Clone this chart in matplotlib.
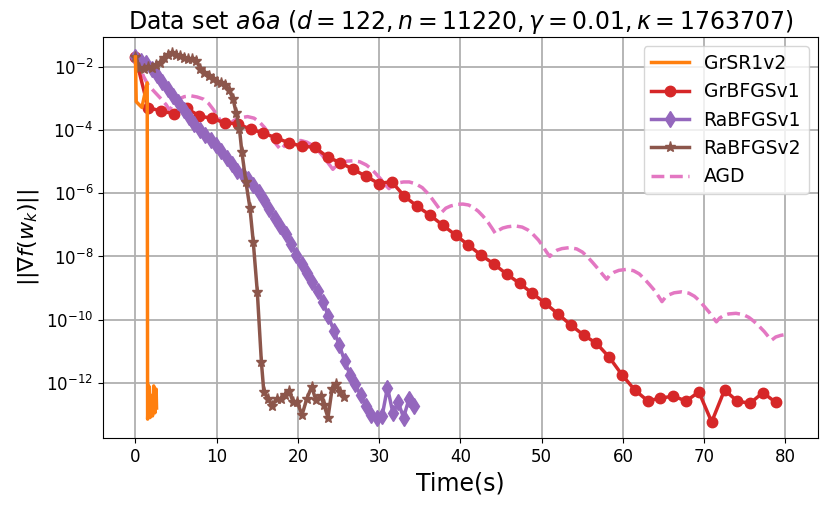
import numpy as np
import matplotlib
matplotlib.use("Agg")
import matplotlib.pyplot as plt
from matplotlib.ticker import NullLocator

# ---------------- data (log10 of gradient norm) ----------------
grsr1_t = [0.0, 0.1, 0.8, 1.45, 1.5, 1.65, 1.8, 1.95, 2.1, 2.25, 2.4, 2.55, 2.6]
grsr1_log = [-1.68, -3.1, -3.28, -2.5, -13.15, -12.1, -13.1, -12.4, -13.05, -12.1, -12.95, -12.2, -12.8]

grbfgs_t = [0.0, 1.58, 3.15, 4.73, 6.30, 7.88, 9.46, 11.03, 12.61, 14.18,
            15.76, 17.34, 18.91, 20.49, 22.06, 23.64, 25.22, 26.79, 28.37, 29.94,
            31.52, 33.10, 34.67, 36.25, 37.82, 39.40, 40.98, 42.55, 44.13, 45.70,
            47.28, 48.86, 50.43, 52.01, 53.58, 55.16, 56.74, 58.31, 59.89, 61.46,
            63.04, 64.62, 66.19, 67.77, 69.34, 70.92, 72.50, 74.07, 75.65, 77.22, 78.80]
grbfgs_log = [-1.68, -3.29, -3.39, -3.48, -3.31, -3.55, -3.63, -3.77, -3.80, -3.97,
              -4.09, -4.25, -4.40, -4.51, -4.54, -4.85, -5.03, -5.24, -5.46, -5.69,
              -5.63, -6.09, -6.41, -6.69, -7.01, -7.32, -7.64, -7.96, -8.24, -8.56,
              -8.85, -9.17, -9.48, -9.82, -10.17, -10.49, -10.75, -11.19, -11.75, -12.23,
              -12.57, -12.49, -12.42, -12.58, -12.29, -13.24, -12.23, -12.58, -12.65, -12.31, -12.62]

rabfgs1_t = [0.0, 0.66, 1.32, 1.98, 2.64, 3.30, 3.96, 4.62, 5.28, 5.94,
             6.60, 7.26, 7.92, 8.58, 9.24, 9.90, 10.56, 11.22, 11.88, 12.54,
             13.20, 13.86, 14.52, 15.18, 15.84, 16.50, 17.16, 17.82, 18.48, 19.14,
             19.80, 20.46, 21.12, 21.78, 22.44, 23.10, 23.76, 24.42, 25.08, 25.74,
             26.40, 27.06, 27.72, 28.38, 29.04, 29.70, 30.36, 31.02, 31.68, 32.34,
             33.00, 33.66, 34.32]
rabfgs1_log = [-1.68, -1.80, -1.88, -2.05, -2.25, -2.46, -2.70, -2.92, -3.12, -3.36,
               -3.58, -3.80, -4.00, -4.14, -4.30, -4.48, -4.65, -4.88, -5.08, -5.28,
               -5.42, -5.55, -5.74, -5.95, -6.20, -6.50, -6.78, -7.02, -7.28, -7.60,
               -7.95, -8.25, -8.52, -8.82, -9.10, -9.45, -9.90, -10.35, -10.80, -11.30,
               -11.75, -12.05, -12.40, -12.75, -13.02, -13.12, -13.05, -12.15, -12.95, -12.62,
               -13.10, -12.52, -12.75]

rabfgs2_t = [0.0, 0.5, 1.0, 1.5, 2.0, 2.5, 3.0, 3.5, 4.0, 4.5,
             5.0, 5.5, 6.0, 6.5, 7.0, 7.5, 8.0, 8.5, 9.0, 9.5,
             10.0, 10.5, 11.0, 11.5, 12.0, 12.4, 12.8, 13.1, 13.6, 14.1,
             14.5, 15.0, 15.5, 15.8, 16.3, 16.8, 17.4, 17.9, 18.4, 18.9,
             19.4, 19.9, 20.5, 21.1, 21.7, 22.2, 22.8, 23.2, 23.7, 24.2,
             24.7, 25.2, 25.7]
rabfgs2_log = [-1.68, -2.03, -2.07, -2.00, -2.02, -1.93, -1.86, -1.72, -1.62, -1.56,
               -1.62, -1.66, -1.70, -1.74, -1.76, -1.82, -2.05, -2.18, -2.30, -2.38,
               -2.46, -2.52, -2.58, -2.72, -3.00, -3.45, -3.95, -4.69, -5.64, -6.48,
               -7.53, -9.12, -11.33, -12.28, -12.50, -12.72, -12.50, -12.52, -12.40, -12.25,
               -12.60, -12.60, -13.02, -12.50, -12.12, -12.55, -12.42, -12.70, -13.10, -12.20,
               -12.05, -12.30, -12.45]

agd_t = [0.0, 0.5, 1.0, 1.6, 2.4, 3.2, 3.8, 4.2,
         4.7, 5.3, 6.0, 6.8, 7.6, 8.4, 9.0, 9.6, 10.2, 10.7, 11.1,
         11.6, 12.2, 12.9, 13.8, 14.6, 15.3, 15.9, 16.5, 17.1, 17.5, 17.9,
         18.4, 19.0, 19.7, 20.4, 21.1, 21.8, 22.4, 23.0, 23.6, 24.3,
         24.8, 25.4, 26.1, 26.8, 27.6, 28.4, 29.0, 29.6, 30.2, 30.7, 31.2,
         31.7, 32.3, 33.0, 33.7, 34.5, 35.3, 35.9, 36.5, 37.1, 37.7,
         38.2, 38.8, 39.6, 40.3, 41.0, 41.6, 42.2, 42.8, 43.4, 43.9, 44.3,
         44.7, 45.2, 45.8, 46.7, 47.6, 48.3, 48.9, 49.6, 50.1, 50.6, 51.0,
         51.4, 51.9, 52.5, 53.4, 54.3, 55.0, 55.6, 56.3, 56.9, 57.5, 58.0,
         58.4, 58.9, 59.5, 60.4, 61.3, 62.0, 62.6, 63.3, 63.9, 64.4, 64.8,
         65.2, 65.7, 66.3, 67.2, 68.1, 68.8, 69.4, 70.0, 70.6, 71.1, 71.5,
         71.9, 72.4, 73.0, 73.9, 74.8, 75.5, 76.1, 76.8, 77.4, 77.9, 78.3,
         78.8, 79.4, 80.0]
agd_log = [-1.68, -1.95, -2.30, -2.58, -2.80, -3.02, -3.20, -3.37,
           -3.15, -3.02, -2.94, -2.91, -2.95, -3.02, -3.15, -3.35, -3.58, -3.82, -3.98,
           -3.80, -3.68, -3.61, -3.57, -3.62, -3.75, -3.92, -4.15, -4.37, -4.50, -4.62,
           -4.47, -4.38, -4.33, -4.33, -4.38, -4.48, -4.62, -4.80, -5.00, -5.24,
           -5.10, -5.02, -4.98, -4.97, -5.00, -5.10, -5.22, -5.38, -5.55, -5.72, -5.85,
           -5.73, -5.67, -5.64, -5.64, -5.70, -5.82, -5.98, -6.17, -6.38, -6.60,
           -6.47, -6.40, -6.35, -6.34, -6.37, -6.45, -6.57, -6.73, -6.92, -7.11, -7.27,
           -7.17, -7.10, -7.06, -7.03, -7.07, -7.16, -7.29, -7.48, -7.66, -7.86, -8.00,
           -7.88, -7.80, -7.75, -7.72, -7.76, -7.86, -8.00, -8.20, -8.38, -8.57, -8.72,
           -8.58, -8.50, -8.44, -8.41, -8.45, -8.55, -8.70, -8.90, -9.08, -9.27, -9.43,
           -9.30, -9.21, -9.15, -9.12, -9.16, -9.26, -9.40, -9.58, -9.76, -9.94, -10.07,
           -9.95, -9.87, -9.82, -9.80, -9.84, -9.93, -10.05, -10.22, -10.38, -10.54, -10.65,
           -10.55, -10.50, -10.47]

labels = ["GrSR1v2", "GrBFGSv1", "RaBFGSv1", "RaBFGSv2", "AGD"]
xticks = [0, 10, 20, 30, 40, 50, 60, 70, 80]
yticks_exp = [-2, -4, -6, -8, -10, -12]

# ---------------- plot ----------------
fig = plt.figure(figsize=(8.3, 5.07), dpi=100)
ax = fig.add_axes([0.124, 0.136, 0.8615, 0.791])

ax.plot(grsr1_t, 10.0 ** np.array(grsr1_log), color="#ff7f0e", lw=2.5, label=labels[0], zorder=5)
ax.plot(grbfgs_t, 10.0 ** np.array(grbfgs_log), color="#d62728", lw=2.5, marker="o",
        markersize=7.5, label=labels[1], zorder=3)
ax.plot(rabfgs1_t, 10.0 ** np.array(rabfgs1_log), color="#9467bd", lw=2.5, marker="d",
        markersize=8.5, label=labels[2], zorder=4)
ax.plot(rabfgs2_t, 10.0 ** np.array(rabfgs2_log), color="#8c564b", lw=2.5, marker="*",
        markersize=8, label=labels[3], zorder=4)
ax.plot(agd_t, 10.0 ** np.array(agd_log), color="#e377c2", lw=2.5, ls="--",
        label=labels[4], zorder=2)

ax.set_yscale("log")
ax.set_xlim(-4, 84)
ax.set_ylim(10 ** -13.75, 10 ** -1.05)
ax.set_xticks(xticks)
ax.set_yticks([10.0 ** e for e in yticks_exp])
ax.yaxis.set_minor_locator(NullLocator())
ax.tick_params(labelsize=12)
ax.grid(True, which="major", color="#b0b0b0", lw=1.3)

ax.set_title(r"Data set $a6a$ ($d = 122, n = 11220, \gamma = 0.01, \kappa = 1763707$)", fontsize=17)
ax.set_xlabel("Time(s)", fontsize=17)
ax.set_ylabel(r"$||\nabla f(w_k)||$", fontsize=16)
ax.legend(loc="upper right", fontsize=13.5)

fig.savefig("out.png", dpi=100)
